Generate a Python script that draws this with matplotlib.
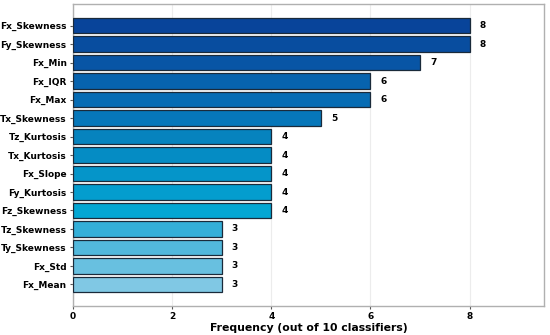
import matplotlib
matplotlib.use("Agg")
import matplotlib.pyplot as plt

features = ["Fx_Skewness", "Fy_Skewness", "Fx_Min", "Fx_IQR", "Fx_Max", "Tx_Skewness",
            "Tz_Kurtosis", "Tx_Kurtosis", "Fx_Slope", "Fy_Kurtosis", "Fz_Skewness",
            "Tz_Skewness", "Ty_Skewness", "Fx_Std", "Fx_Mean"]
frequency = [8, 8, 7, 6, 6, 5, 4, 4, 4, 4, 4, 3, 3, 3, 3]

bar_colors = ["#08449a", "#084d9f", "#0855a5", "#0763ae", "#066cb4", "#0677ba",
              "#0683be", "#058cc4", "#0595c9", "#049dce", "#03a6d3", "#34afd8",
              "#52b8dc", "#68c0e0", "#80c8e4"]

fig = plt.figure(figsize=(5.5, 3.35), dpi=100)
ax = fig.add_axes([0.1327, 0.0866, 0.8563, 0.9014])

ypos = list(range(len(features)))
ax.barh(ypos, frequency, height=0.84, color=bar_colors, edgecolor="#1a2a3a",
        linewidth=0.9, zorder=3)
ax.set_yticks(ypos)
ax.set_yticklabels(features, fontsize=6.5, fontweight="bold")
ax.invert_yaxis()
ax.set_xlim(0, 9.5)
ax.set_xticks([0, 2, 4, 6, 8])
ax.set_xticklabels(["0", "2", "4", "6", "8"], fontsize=6.5, fontweight="bold")
ax.set_xlabel("Frequency (out of 10 classifiers)", fontsize=7.8, fontweight="bold", labelpad=1.5)
ax.grid(axis="x", color="#ececec", linewidth=0.8, zorder=0)
ax.set_axisbelow(True)
for s in ax.spines.values():
    s.set_color("#b0b0b0")
    s.set_linewidth(1.0)
ax.tick_params(axis="both", length=2.5, width=0.8, color="#555555", pad=2)

for y, v in zip(ypos, frequency):
    ax.text(v + 0.2, y, str(v), va="center", ha="left", fontsize=6.5, fontweight="bold")

fig.savefig("out.png", dpi=100)
